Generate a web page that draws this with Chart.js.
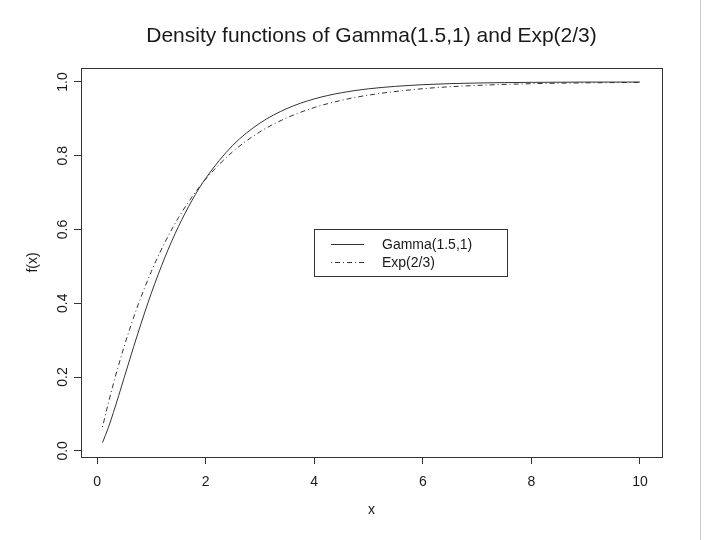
<!DOCTYPE html>
<html>
<head>
<meta charset="utf-8">
<script src="https://cdn.jsdelivr.net/npm/chart.js"></script>
<style>
  html, body { margin: 0; padding: 0; background: #ffffff; }
  canvas { display: block; }
</style>
</head>
<body>
<canvas id="c" width="720" height="540"></canvas>
<script>
// ---- data ----
const xValues = [0.1, 0.2, 0.3, 0.4, 0.5, 0.6, 0.75, 1, 1.25, 1.5, 1.75, 2, 2.5, 3, 3.5, 4, 4.5, 5, 6, 7, 8, 9, 10];
const gammaValues = [0.0224, 0.0598, 0.1035, 0.1505, 0.1987, 0.2470, 0.3177, 0.4276, 0.5248, 0.6084, 0.6792, 0.7385, 0.8282, 0.8884, 0.9281, 0.9540, 0.9707, 0.9814, 0.9926, 0.9971, 0.9989, 0.9996, 0.9998];
const expValues = [0.0645, 0.1248, 0.1813, 0.2341, 0.2835, 0.3297, 0.3935, 0.4866, 0.5654, 0.6321, 0.6886, 0.7364, 0.8111, 0.8647, 0.9030, 0.9305, 0.9502, 0.9643, 0.9817, 0.9906, 0.9952, 0.9975, 0.9987];
const xTicks = [0, 2, 4, 6, 8, 10];
const yTicks = [0.0, 0.2, 0.4, 0.6, 0.8, 1.0];
const yTickLabels = ['0.0', '0.2', '0.4', '0.6', '0.8', '1.0'];
const seriesNames = ['Gamma(1.5,1)', 'Exp(2/3)'];
const titleText = 'Density functions of Gamma(1.5,1) and Exp(2/3)';

const FONT = '"Liberation Sans", Arial, Helvetica, sans-serif';
const INK = '#1a1a1a';
const LINE = '#333333';
const DASH = [1, 3, 5, 3];

const toPoints = (ys) => xValues.map((x, i) => ({ x: x, y: ys[i] }));

const decor = {
  id: 'decor',
  afterDraw(chart) {
    const ctx = chart.ctx;
    const a = chart.chartArea;
    const ys = chart.scales.y;
    ctx.save();
    // title centred over the plot region
    ctx.fillStyle = INK;
    ctx.font = '21px ' + FONT;
    ctx.textAlign = 'center';
    ctx.textBaseline = 'middle';
    ctx.fillText(titleText, (a.left + a.right) / 2, 36);
    // plot box
    ctx.strokeStyle = LINE;
    ctx.lineWidth = 1;
    ctx.strokeRect(Math.round(a.left) + 0.5, Math.round(a.top) + 0.5,
                   Math.round(a.right - a.left), Math.round(a.bottom - a.top));
    // rotated y tick labels
    ctx.font = '14px ' + FONT;
    yTicks.forEach((v, i) => {
      const py = ys.getPixelForValue(v);
      ctx.save();
      ctx.translate(63, py);
      ctx.rotate(-Math.PI / 2);
      ctx.fillText(yTickLabels[i], 0, 0);
      ctx.restore();
    });
    // legend
    const lx = 314, ly = 229, lw = 193, lh = 47;
    ctx.strokeStyle = LINE;
    ctx.strokeRect(lx + 0.5, ly + 0.5, lw, lh);
    const rows = [244, 262];
    ctx.textAlign = 'left';
    rows.forEach((ry, i) => {
      ctx.beginPath();
      ctx.setLineDash(i === 0 ? [] : DASH);
      ctx.moveTo(331, ry + 0.5);
      ctx.lineTo(364, ry + 0.5);
      ctx.stroke();
      ctx.setLineDash([]);
      ctx.fillText(seriesNames[i], 382, ry + 1);
    });
    // light gray page edge at right
    ctx.strokeStyle = '#cccccc';
    ctx.beginPath();
    ctx.moveTo(700.5, 0);
    ctx.lineTo(700.5, 540);
    ctx.stroke();
    ctx.restore();
  }
};

new Chart(document.getElementById('c'), {
  type: 'line',
  data: {
    datasets: [
      {
        label: seriesNames[0],
        data: toPoints(gammaValues),
        borderColor: LINE,
        borderWidth: 1,
        pointRadius: 0,
        fill: false,
        cubicInterpolationMode: 'monotone'
      },
      {
        label: seriesNames[1],
        data: toPoints(expValues),
        borderColor: LINE,
        borderWidth: 1,
        borderDash: DASH,
        pointRadius: 0,
        fill: false,
        cubicInterpolationMode: 'monotone'
      }
    ]
  },
  options: {
    responsive: false,
    animation: false,
    devicePixelRatio: 1,
    layout: { padding: { left: 0, right: 58, top: 68, bottom: 0 } },
    plugins: {
      legend: { display: false },
      tooltip: { enabled: false },
      title: { display: false }
    },
    scales: {
      x: {
        type: 'linear',
        min: -0.296,
        max: 10.406,
        afterBuildTicks(scale) { scale.ticks = xTicks.map(v => ({ value: v })); },
        afterFit(scale) { scale.height = 83; },
        ticks: {
          color: INK,
          font: { family: FONT, size: 14 },
          padding: 10,
          maxRotation: 0,
          autoSkip: false,
          callback: (v) => String(v)
        },
        grid: { drawOnChartArea: false, drawTicks: true, tickLength: 7, color: LINE, lineWidth: 1 },
        border: { display: false },
        title: {
          display: true,
          text: 'x',
          color: INK,
          font: { family: FONT, size: 14 },
          padding: { top: 0, bottom: 21 }
        }
      },
      y: {
        type: 'linear',
        min: -0.0167,
        max: 1.0378,
        afterBuildTicks(scale) { scale.ticks = yTicks.map(v => ({ value: v })); },
        afterFit(scale) { scale.width = 81; },
        ticks: { display: false },
        grid: { drawOnChartArea: false, drawTicks: true, tickLength: 7, color: LINE, lineWidth: 1 },
        border: { display: false },
        title: {
          display: true,
          text: 'f(x)',
          color: INK,
          font: { family: FONT, size: 14 },
          padding: { top: 25, bottom: 0 }
        }
      }
    }
  },
  plugins: [decor]
});
</script>
</body>
</html>
